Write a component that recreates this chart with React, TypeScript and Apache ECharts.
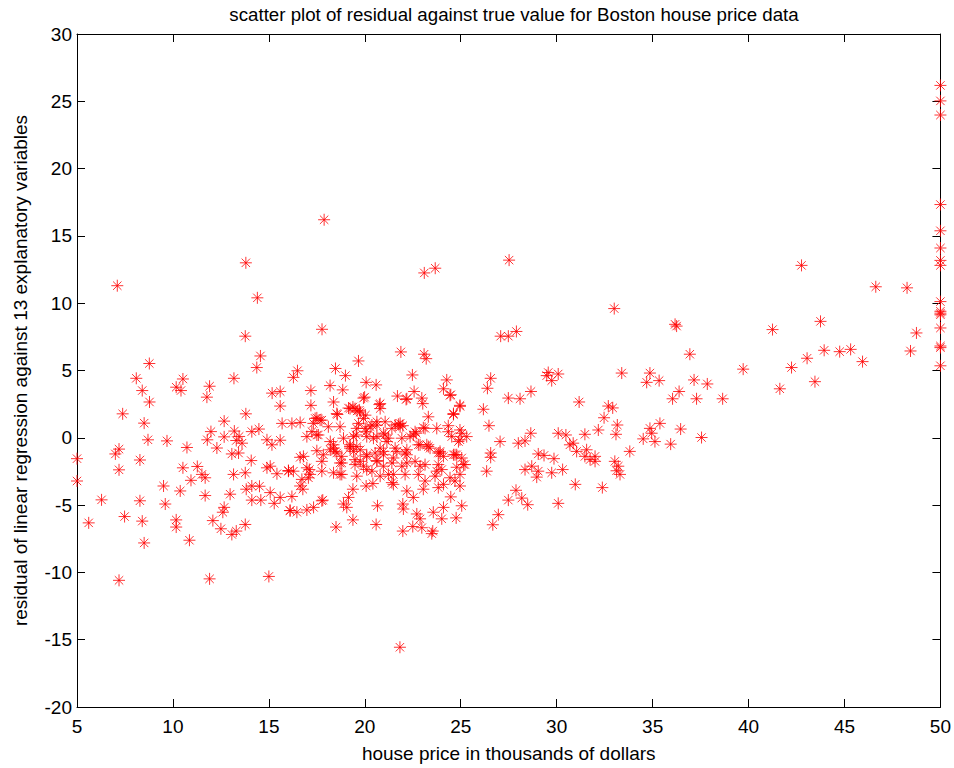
import React, { useEffect, useRef } from "react";
import * as echarts from "echarts";

const titleText = "scatter plot of residual against true value for Boston house price data";
const xAxisTitle = "house price in thousands of dollars";
const yAxisTitle = "residual of linear regression against 13 explanatory variables";

const xTicks = { min: 5, max: 50, interval: 5 };
const yTicks = { min: -20, max: 30, interval: 5 };

const leftPoints: [number, number][] = [
  [13.77,7.55],[14.56,6.08],[14.37,5.22],[8.77,5.52],[8.09,4.42],[8.40,3.51],[8.78,2.66],[7.38,1.78],[8.50,1.09],[8.70,-0.15],
  [9.69,-0.23],[10.52,4.37],[10.17,3.76],[10.42,3.51],[11.91,3.83],[11.77,3.02],[13.18,4.42],[15.17,3.32],[15.59,3.44],[15.59,2.36],
  [15.69,1.07],[13.80,1.78],[12.67,1.24],[11.98,0.46],[11.79,-0.15],[12.29,-0.76],[12.67,0.07],[13.2,0.5],[13.45,0.1],[13.6,-0.4],
  [13.3,-0.2],[14.11,0.46],[14.48,0.65],[14.90,-0.15],[15.16,-0.52],[15.59,-0.18],[13.07,-1.20],[13.42,-1.13],[14.08,-1.69],[10.73,-0.72],
  [7.19,-0.84],[7.0,-1.20],[8.28,-1.65],[5.0,-1.55],[5.0,-3.21],[7.19,-2.38],[10.52,-2.23],[11.27,-2.13],[11.51,-2.72],[11.68,-2.97],
  [10.94,-3.16],[9.51,-3.58],[10.38,-3.95],[11.68,-4.29],[12.98,-4.19],[13.16,-2.72],[13.77,-2.60],[13.82,-3.82],[14.11,-3.58],[14.51,-3.60],
  [14.90,-2.23],[15.07,-2.11],[15.42,-2.67],[16.02,-2.48],[15.07,-4.07],[15.28,-4.87],[15.59,-4.43],[14.11,-4.63],[14.58,-4.63],[6.28,-4.61],
  [8.28,-4.68],[9.60,-4.92],[12.67,-5.17],[12.60,-5.53],[12.08,-6.15],[12.50,-6.76],[13.07,-7.18],[13.30,-6.93],[13.77,-6.44],[5.61,-6.32],
  [7.48,-5.85],[8.40,-6.19],[10.17,-6.10],[10.17,-6.63],[10.86,-7.61],[8.50,-7.81],[7.19,-10.59],[11.91,-10.48],[15.0,-10.30],[16.1,-5.4],
  [7.1,11.3],[13.8,13.0],[14.4,10.4],
];

const centerPoints: [number, number][] = [
  [21.88,6.38],[23.09,6.21],[23.2,5.88],[19.67,5.71],[16.49,4.98],[16.28,4.49],[18.47,5.15],[18.99,4.62],[22.48,4.67],[24.27,4.30],
  [24.1,3.64],[24.48,3.2],[20.07,4.12],[20.59,3.93],[18.19,3.88],[17.19,3.51],[18.85,3.56],[19.99,3.02],[22.15,2.85],[22.57,3.44],
  [22.97,2.95],[23.02,2.54],[17.19,2.41],[18.37,2.66],[20.76,2.47],[24.96,2.41],[24.62,1.73],[19.15,2.21],[19.38,2.29],[19.72,2.05],
  [20.03,1.68],[18.57,1.73],[17.5,1.48],[17.76,1.31],[23.31,1.56],[21.75,1.0],[21.98,0.9],[16.2,1.07],[16.63,1.14],[18.71,0.82],
  [18.1,0.82],[20.63,0.94],[23.05,0.75],[23.75,0.70],[24.35,0.90],[17.24,0.46],[17.5,0.21],[18.89,-0.03],[19.55,0.21],[20.07,0.45],
  [21.06,0.21],[22.68,0.34],[23.23,-0.52],[24.53,0.09],[24.96,-0.15],[25.05,0.34],[25.31,0.09],[18.2,-0.89],[18.45,-1.01],[17.5,-0.96],
  [16.63,-1.45],[19.23,-0.65],[19.76,-0.89],[20.8,-0.77],[21.67,-1.01],[22.19,-0.89],[23.92,-1.01],[24.79,-1.26],[17.76,-1.75],[18.8,-1.87],
  [19.49,-1.62],[20.63,-1.69],[22.19,-1.87],[22.88,-2.11],[25.14,-1.99],[24.79,-2.19],[16.02,-2.43],[16.28,-2.48],[17.11,-2.36],[17.76,-2.48],
  [18.71,-2.72],[20.1,-2.36],[21.49,-2.72],[23.75,-2.48],[24.44,-2.97],[24.96,-2.72],[17.06,-2.97],[16.63,-3.58],[16.77,-3.82],[16.2,-4.36],
  [17.81,-4.63],[19.38,-3.82],[19.15,-4.43],[20.07,-3.58],[20.42,-3.40],[21.49,-3.46],[22.19,-3.95],[22.53,-4.43],[23.05,-3.82],[23.83,-3.70],
  [24.48,-4.39],[24.96,-3.58],[18.89,-4.92],[19.06,-5.17],[16.11,-5.41],[16.46,-5.53],[16.98,-5.36],[17.33,-5.17],[17.76,-4.68],[20.66,-5.05],
  [22.01,-5.29],[21.98,-4.92],[22.71,-5.66],[22.88,-6.02],[23.57,-5.53],[24.1,-5.17],[25.05,-5.05],[24.01,-6.02],[24.76,-5.95],[18.5,-6.63],
  [19.38,-6.10],[20.59,-6.44],[21.98,-6.93],[22.5,-6.59],[22.97,-6.68],[23.54,-6.93],[23.49,-7.12],
];

const clusterPoints: [number, number][] = [
  [19.93,2.95],[20.8,2.54],[20.8,2.17],[19.23,2.17],[19.49,2.17],[19.76,1.92],[18.54,1.80],[17.41,1.44],[17.67,1.31],[17.32,1.07],
  [19.67,1.07],[20.02,0.70],[20.37,0.95],[20.63,1.19],[21.06,1.19],[16.98,0.09],[17.58,0.21],[19.41,0.09],[20.1,0.09],[20.63,0.09],
  [20.97,0.34],[18.37,-0.52],[19.23,-0.77],[19.58,-0.65],[17.84,-1.26],[18.54,-1.13],[18.8,-1.38],[20.1,-1.38],[20.54,-1.13],[20.97,-1.26],
  [16.8,-1.38],[18.71,-1.87],[19.49,-1.99],[19.93,-2.11],[20.63,-1.75],[20.97,-2.11],[16.98,-2.23],[17.15,-2.72],[18.37,-2.60],[18.8,-2.72],
  [19.58,-2.85],[20.37,-2.48],[20.8,-2.85],[16.72,-3.09],
  [22.19,2.90],[21.7,3.1],[24.44,3.15],[24.96,2.34],[24.62,1.80],[21.58,0.95],[21.84,0.82],[21.41,0.70],[22.62,0.45],[23.14,0.70],
  [24.35,0.45],[24.96,0.58],[21.23,-0.03],[21.93,-0.03],[22.36,0.09],[24.88,-0.28],[22.79,-0.52],[23.31,-0.65],[21.58,-0.77],[22.1,-1.13],
  [23.83,-1.13],[24.1,-1.38],[24.7,-1.26],[25.05,-1.50],[22.62,-1.75],[23.14,-1.99],[21.41,-1.87],[21.93,-2.11],[23.83,-1.99],[24.01,-2.36],
  [25.22,-1.99],[21.23,-2.72],[22.1,-2.72],[22.79,-2.72],[23.66,-2.85],[21.41,-3.33],[23.14,-3.21],[24.1,-3.46],[24.7,-3.21],
  [19.6,2.0],[19.93,1.44],[20.28,0.82],[19.58,0.70],[21.84,1.07],[18.37,-0.77],[18.2,-0.28],[19.23,-0.52],[19.41,-1.01],[20.45,-0.03],
  [21.15,-0.28],[20.97,-1.01],[22.53,0.21],[22.88,-0.52],[23.4,-0.77],[23.92,-1.13],[24.62,-1.26],[20.1,-1.26],[19.76,-1.75],[21.49,-1.50],
  [22.19,-1.26],
  [17.88,16.2],[17.77,8.06],[23.1,12.25],[23.67,12.6],[21.83,-15.56],
];

const rightPoints: [number, number][] = [
  [27.08,7.55],[27.48,7.55],[27.9,7.9],[27.52,13.2],[33.0,9.6],[36.17,8.43],[36.25,8.3],[36.94,6.21],[29.56,4.85],[30.08,4.74],
  [29.74,4.25],[29.48,4.62],[33.39,4.81],[34.86,4.81],[34.69,4.12],[35.34,4.25],[26.56,4.42],[26.39,3.68],[28.66,3.44],[27.48,2.95],
  [28.09,2.90],[37.16,4.30],[37.85,4.0],[36.38,3.44],[36.04,2.90],[37.29,2.90],[26.18,2.12],[31.17,2.66],[32.69,2.36],[32.92,2.22],
  [32.47,1.49],[26.47,0.90],[27.05,-0.28],[28.65,0.34],[28.35,-0.23],[28.0,-0.40],[30.08,0.34],[30.48,0.21],[31.47,0.26],[32.17,0.58],
  [33.16,0.95],[33.09,0.26],[34.86,0.70],[34.95,0.34],[34.51,-0.08],[35.12,-0.28],[35.38,1.07],[36.46,0.65],[37.55,0.02],[35.94,-0.47],
  [33.81,-1.01],[30.69,-0.52],[31.04,-1.01],[31.56,-0.89],[31.47,-1.38],[31.74,-1.62],[32.0,-1.38],[32.0,-1.75],[30.86,-0.40],[26.56,-1.13],
  [26.56,-1.45],[29.04,-1.20],[29.34,-1.31],[29.86,-1.55],[30.31,-2.36],[29.74,-2.60],[28.35,-2.36],[28.7,-2.11],[29.04,-2.48],[28.96,-2.92],
  [26.35,-2.48],[33.03,-1.75],[33.21,-2.11],[33.3,-2.72],[33.12,-2.45],[30.97,-3.46],[32.38,-3.70],[27.88,-3.90],[28.18,-4.48],[27.48,-4.63],
  [28.49,-4.97],[30.08,-4.87],[26.96,-5.71],[26.67,-6.46],
  [42.76,12.81],[46.63,11.22],[48.26,11.14],[48.75,7.79],[48.44,6.45],[41.25,8.04],[43.75,8.65],[43.05,5.91],[43.94,6.5],[44.75,6.40],
  [45.32,6.57],[45.94,5.66],[42.24,5.22],[41.63,3.64],[43.46,4.17],[39.72,5.1],[38.65,2.90],
];

const cappedPoints: [number, number][] = [
  [50,26.18],[50,25.03],[50,23.98],[50,17.33],[50,15.38],[50,14.10],[50,13.18],[50,12.81],[50,10.12],[50,9.4],
  [50,9.26],[50,9.14],[50,8.16],[50,6.82],[50,6.70],[50,5.35],
];

const FONT = "'Liberation Sans', Arial, Helvetica, sans-serif";
const ASTERISK = "path://M0 6L12 6M6 0L6 12M1.8 1.8L10.2 10.2M1.8 10.2L10.2 1.8";

export default function App() {
  const ref = useRef<HTMLDivElement>(null);
  useEffect(() => {
    if (!ref.current) return;
    const chart = echarts.init(ref.current, undefined, { renderer: "svg" });
    const allPoints = [...leftPoints, ...centerPoints, ...clusterPoints, ...rightPoints, ...cappedPoints];
    const axisLine = { show: true, onZero: false, lineStyle: { color: "#000", width: 1 } };
    const tick = { show: true, inside: true, length: 8, lineStyle: { color: "#000", width: 1 } };
    const label = { color: "#000", fontSize: 19, fontFamily: FONT };
    chart.setOption({
      animation: false,
      backgroundColor: "#fff",
      title: {
        text: titleText,
        left: 509,
        top: 0,
        textAlign: "center",
        textStyle: { fontSize: 18.7, fontWeight: "normal", color: "#000", fontFamily: FONT },
      },
      grid: { left: 77, top: 34, width: 864, height: 681, containLabel: false },
      xAxis: [
        {
          type: "value", position: "bottom", ...xTicks,
          axisLine, axisTick: tick, splitLine: { show: false },
          axisLabel: { ...label, margin: 10 },
          name: xAxisTitle, nameLocation: "middle", nameGap: 37,
          nameTextStyle: { fontSize: 19, color: "#000", fontFamily: FONT },
        },
        {
          type: "value", position: "top", ...xTicks,
          axisLine, axisTick: tick, splitLine: { show: false }, axisLabel: { show: false },
        },
      ],
      yAxis: [
        {
          type: "value", position: "left", ...yTicks,
          axisLine, axisTick: tick, splitLine: { show: false },
          axisLabel: { ...label, margin: 5 },
          name: yAxisTitle, nameLocation: "middle", nameGap: 47,
          nameTextStyle: { fontSize: 19, color: "#000", fontFamily: FONT },
        },
        {
          type: "value", position: "right", ...yTicks,
          axisLine, axisTick: tick, splitLine: { show: false }, axisLabel: { show: false },
        },
      ],
      series: [
        {
          type: "scatter",
          data: allPoints,
          clip: false,
          symbol: ASTERISK,
          symbolSize: 12,
          itemStyle: { color: "rgba(0,0,0,0)", borderColor: "#ff0000", borderWidth: 1 },
          emphasis: { disabled: true },
        },
      ],
    });
    return () => chart.dispose();
  }, []);
  return <div ref={ref} style={{ position: "fixed", left: 0, top: 0, width: 954, height: 768, background: "#fff" }} />;
}
